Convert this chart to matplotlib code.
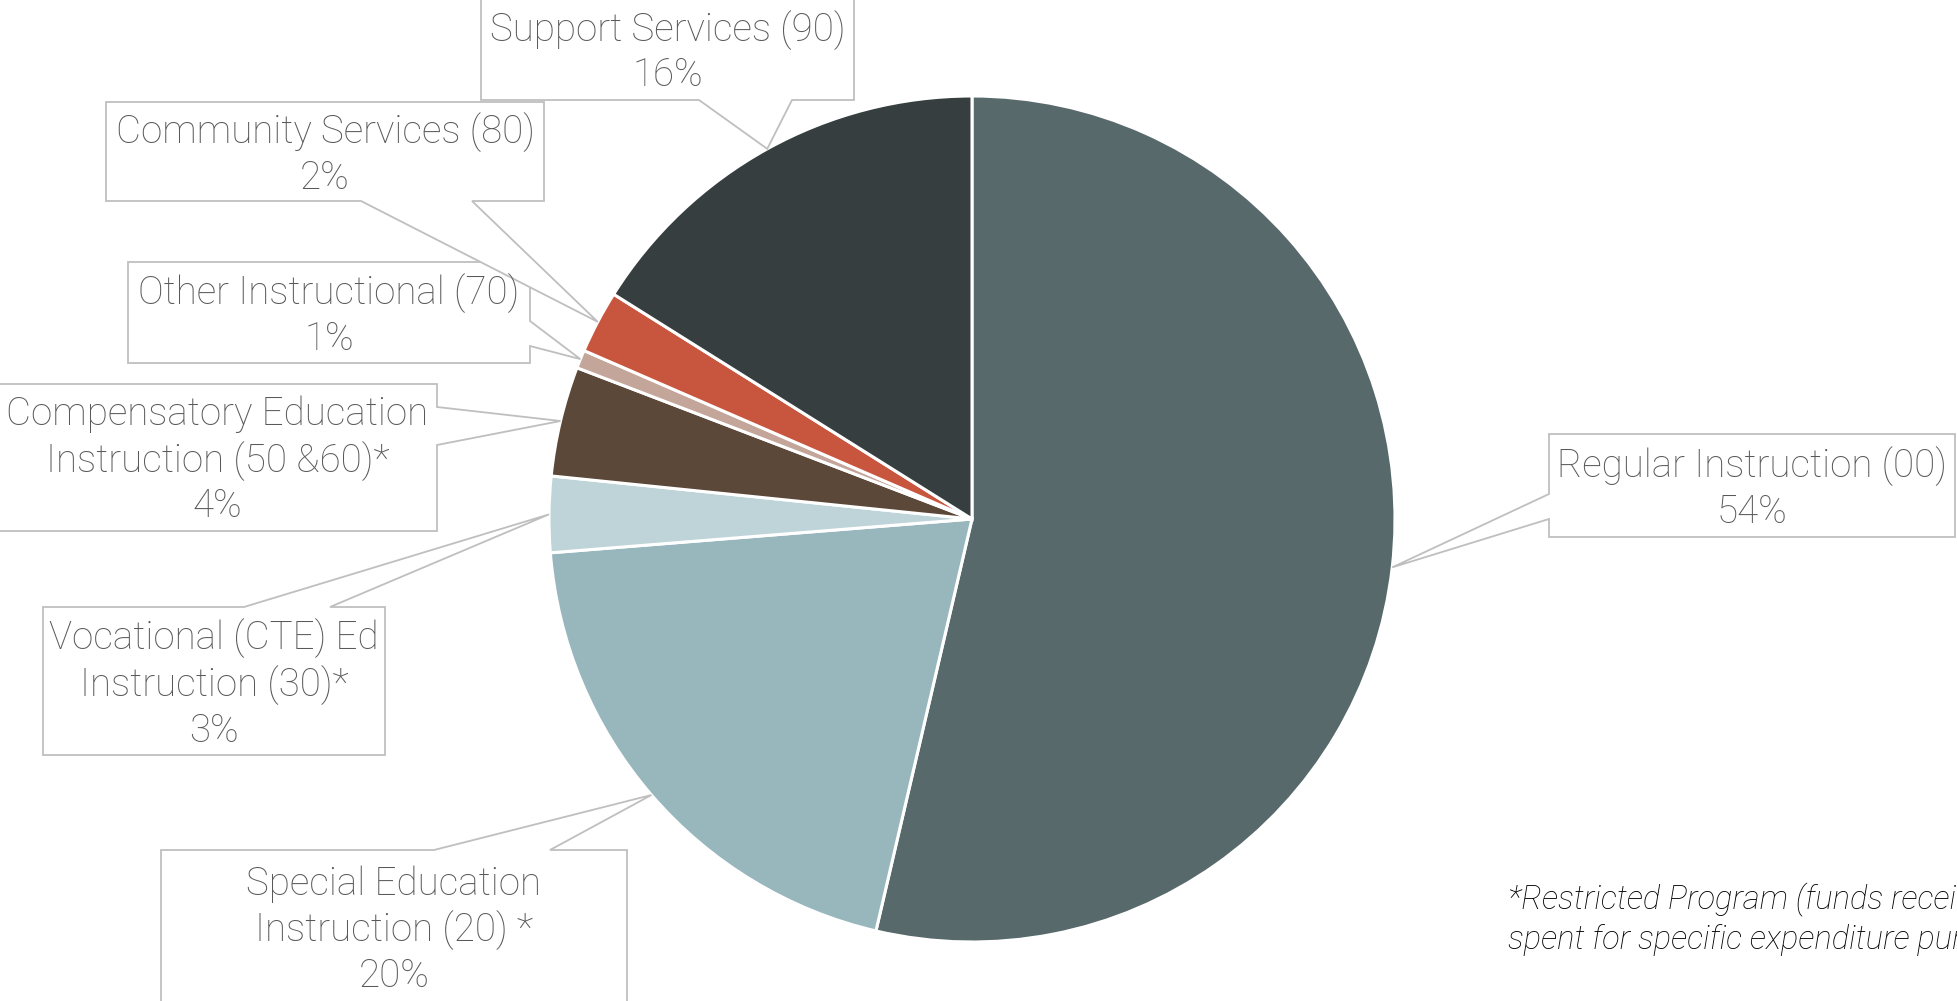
import matplotlib.pyplot as plt
from matplotlib.patches import Polygon
import numpy as np

# Data (share of expenditures, %)
categories = [
    "Regular Instruction (00)",
    "Special Education\nInstruction (20) *",
    "Vocational (CTE) Ed\nInstruction (30)*",
    "Compensatory Education\nInstruction (50 &60)*",
    "Other Instructional (70)",
    "Community Services (80)",
    "Support Services (90)",
]
shares = [53.7, 20.1, 2.9, 4.2, 0.7, 2.4, 16.1]
colors = ["#58696B", "#97B7BD", "#BFD4D8", "#5B4839", "#C4A59A", "#C8553D", "#363E40"]
footnote = "*Restricted Program (funds received must be\nspent for specific expenditure purposes)"

W, H = 1957, 1001
CENTER = (972, H - 519)
RADIUS = 423
FONT = "Roboto"

# callout layout in pixel coords: box (x0, y0, x1, y1), pointer edge, pointer base (a, b)
callouts = [
    ((1549, 434, 1955, 537), "left", (494, 519)),
    ((161, 850, 627, 1004), "top", (434, 550)),
    ((43, 607, 385, 755), "top", (244, 330)),
    ((-2, 384, 437, 531), "right", (407, 445)),
    ((128, 262, 530, 363), "right", (321, 346)),
    ((106, 102, 544, 201), "bottom", (361, 472)),
    ((481, -2, 854, 100), "bottom", (699, 792)),
]

fig = plt.figure(figsize=(W / 100, H / 100), dpi=100)
ax = fig.add_axes([0, 0, 1, 1])

wedges, _ = ax.pie(shares, colors=colors, startangle=90, counterclock=False,
                   center=CENTER, radius=RADIUS,
                   wedgeprops=dict(edgecolor="white", linewidth=2.2))

ax.set_xlim(0, W)
ax.set_ylim(0, H)
ax.set_aspect("equal")
ax.axis("off")


def to_data(x, y):
    return (x, H - y)


for w, (box, edge, (a, b)), name, val in zip(wedges, callouts, categories, shares):
    # pointer tip at the middle of the wedge's arc
    mid = np.deg2rad((w.theta1 + w.theta2) / 2)
    tip = (CENTER[0] + RADIUS * np.cos(mid), CENTER[1] + RADIUS * np.sin(mid))
    x0, y0, x1, y1 = box
    if edge == "top":
        pts = [(x0, y0), (a, y0), None, (b, y0), (x1, y0), (x1, y1), (x0, y1)]
    elif edge == "right":
        pts = [(x0, y0), (x1, y0), (x1, a), None, (x1, b), (x1, y1), (x0, y1)]
    elif edge == "bottom":
        pts = [(x0, y0), (x1, y0), (x1, y1), (b, y1), None, (a, y1), (x0, y1)]
    else:
        pts = [(x0, y0), (x1, y0), (x1, y1), (x0, y1), (x0, b), None, (x0, a)]
    verts = [tip if p is None else to_data(*p) for p in pts]
    ax.add_patch(Polygon(verts, closed=True, facecolor="white", edgecolor="#BFBFBF",
                         linewidth=1.3, zorder=3))
    cx = (x0 + x1) / 2
    cy = (y0 + y1) / 2 + 3
    ax.text(*to_data(cx, cy), f"{name}\n{val:.0f}%", ha="center", va="center",
            fontsize=27.7, color="#595959", family=FONT, fontweight="light",
            linespacing=1.25, zorder=4)

ax.text(*to_data(1508, 920), footnote, ha="left", va="center", fontsize=23.5,
        style="italic", color="black", family=FONT, fontweight="light", linespacing=1.22)

fig.savefig("out.png", dpi=100)
